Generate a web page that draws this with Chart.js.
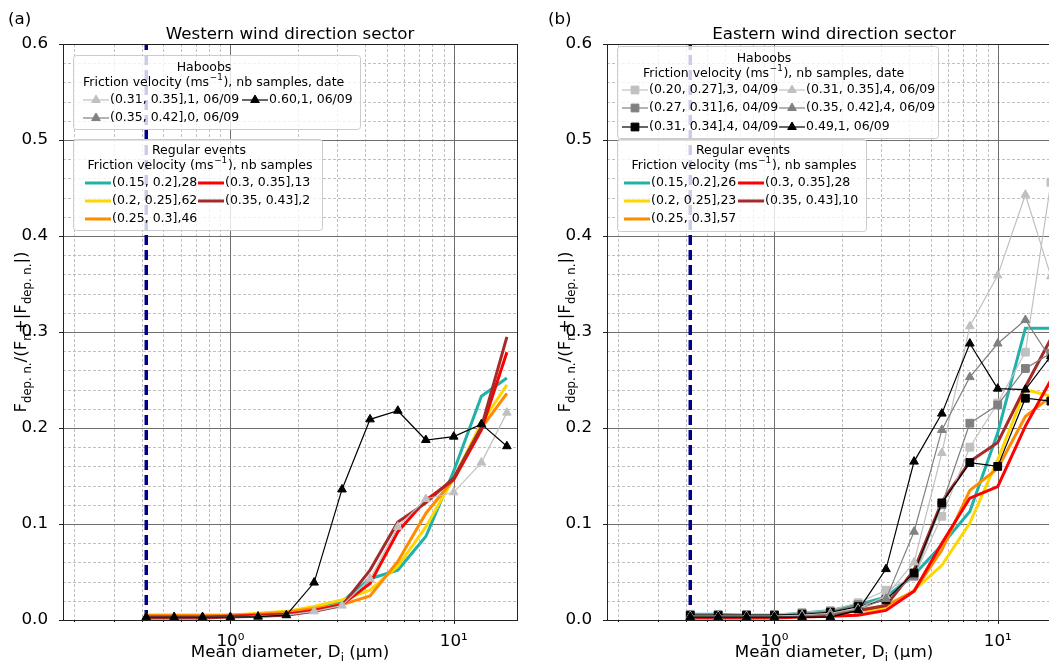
<!DOCTYPE html>
<html>
<head>
<meta charset="utf-8">
<script src="https://cdn.jsdelivr.net/npm/chart.js@4.4.1/dist/chart.umd.min.js"></script>
<style>
html, body { margin: 0; padding: 0; background: #fff; overflow: hidden; width: 1049px; height: 661px; }
.panel { position: absolute; top: 0; width: 540px; height: 661px; }
#p1 { left: 0; }
#p2 { left: 544px; }
</style>
</head>
<body>
<div class="panel" id="p1"><canvas id="west"></canvas></div>
<div class="panel" id="p2"><canvas id="east"></canvas></div>
<script>
// DATA
const diam = [0.42, 0.56, 0.75, 1.0, 1.33, 1.78, 2.37, 3.16, 4.22, 5.62, 7.5, 10.0, 13.3, 17.3];
const cutoff = 0.42;
const yTicks = [0, 0.1, 0.2, 0.3, 0.4, 0.5, 0.6];
const xTickVals = [0.2, 0.3, 0.4, 0.5, 0.6, 0.7, 0.8, 0.9, 1, 2, 3, 4, 5, 6, 7, 8, 9, 10];
const xTickLabels = { 1: '10⁰', 10: '10¹' };

// western sector - regular events
const westReg015 = [0.004, 0.004, 0.004, 0.005, 0.006, 0.008, 0.012, 0.019, 0.043, 0.052, 0.087, 0.155, 0.233, 0.252];
const westReg020 = [0.005, 0.005, 0.005, 0.005, 0.007, 0.009, 0.014, 0.021, 0.031, 0.056, 0.097, 0.148, 0.205, 0.245];
const westReg025 = [0.005, 0.005, 0.005, 0.005, 0.006, 0.008, 0.012, 0.016, 0.025, 0.061, 0.111, 0.147, 0.200, 0.236];
const westReg030 = [0.003, 0.003, 0.003, 0.004, 0.005, 0.006, 0.010, 0.016, 0.038, 0.092, 0.125, 0.146, 0.198, 0.279];
const westReg035 = [0.002, 0.002, 0.002, 0.003, 0.004, 0.005, 0.009, 0.015, 0.052, 0.102, 0.122, 0.148, 0.201, 0.295];
// western sector - haboobs
const westHab031 = [0.003, 0.003, 0.003, 0.003, 0.004, 0.005, 0.009, 0.015, 0.043, 0.097, 0.126, 0.133, 0.164, 0.216];
const westHab035 = [];
const westHab060 = [0.003, 0.003, 0.003, 0.003, 0.0035, 0.005, 0.039, 0.136, 0.209, 0.218, 0.1875, 0.191, 0.204, 0.181];

// eastern sector - regular events
const eastReg015 = [0.006, 0.006, 0.005, 0.005, 0.007, 0.010, 0.016, 0.024, 0.047, 0.078, 0.113, 0.195, 0.304, 0.304];
const eastReg020 = [0.003, 0.003, 0.003, 0.003, 0.004, 0.006, 0.009, 0.012, 0.031, 0.057, 0.101, 0.167, 0.240, 0.233];
const eastReg025 = [0.004, 0.004, 0.004, 0.004, 0.005, 0.007, 0.010, 0.015, 0.030, 0.073, 0.135, 0.158, 0.212, 0.233];
const eastReg030 = [0.002, 0.002, 0.002, 0.002, 0.003, 0.004, 0.005, 0.010, 0.030, 0.080, 0.127, 0.139, 0.202, 0.250];
const eastReg035 = [0.003, 0.003, 0.003, 0.003, 0.004, 0.006, 0.010, 0.015, 0.052, 0.123, 0.165, 0.185, 0.243, 0.293];
// eastern sector - haboobs
const eastHab020 = [0.006, 0.006, 0.006, 0.006, 0.008, 0.010, 0.018, 0.031, 0.045, 0.108, 0.180, 0.226, 0.279, 0.456];
const eastHab027 = [0.005, 0.005, 0.005, 0.005, 0.007, 0.009, 0.016, 0.022, 0.046, 0.120, 0.205, 0.224, 0.262, 0.278];
const eastHab031sq = [0.005, 0.005, 0.005, 0.005, 0.006, 0.008, 0.014, 0.021, 0.049, 0.122, 0.164, 0.160, 0.231, 0.228];
const eastHab031 = [0.004, 0.004, 0.004, 0.004, 0.005, 0.007, 0.012, 0.025, 0.060, 0.174, 0.306, 0.359, 0.443, 0.358];
const eastHab035 = [0.003, 0.003, 0.003, 0.003, 0.004, 0.006, 0.011, 0.022, 0.092, 0.198, 0.253, 0.288, 0.3125, 0.272];
const eastHab049 = [0.003, 0.003, 0.003, 0.003, 0.003, 0.003, 0.010, 0.053, 0.165, 0.215, 0.288, 0.241, 0.240, 0.275];

const TEAL = '#20b2aa', GOLD = '#ffd700', ORANGE = '#ff8c00', RED = '#ff0000', BROWN = '#a52a2a';
const SILVER = '#c0c0c0', GRAY = '#808080', BLACK = '#000000', NAVY = '#00008b';
const FONT = '"DejaVu Sans", Verdana, sans-serif';
const BIG = 16.7;   // titles, ticks, axis labels
const SMALL = 12.5; // legend text

function regular(vals, color) {
    return {
        data: vals.map((v, i) => ({ x: diam[i], y: v })),
        borderColor: color, backgroundColor: color,
        borderWidth: 3, pointRadius: 0, tension: 0
    };
}
function haboob(vals, color, style) {
    return {
        data: vals.map((v, i) => ({ x: diam[i], y: v })),
        borderColor: color, backgroundColor: color,
        pointBackgroundColor: color, pointBorderColor: color,
        borderWidth: 1.2, pointStyle: style,
        pointRadius: style === 'rect' ? 5.5 : 5, pointBorderWidth: 1, tension: 0
    };
}
function cutoffLine() {
    return {
        data: [{ x: cutoff, y: yTicks[0] }, { x: cutoff, y: yTicks[yTicks.length - 1] }],
        borderColor: NAVY, borderWidth: 3.5, borderDash: [10, 5], pointRadius: 0
    };
}

// text with sub/superscripts, parts = [[text, 'sub' | 'sup' | ''], ...]
function richText(ctx, parts, x, y, size, align) {
    const small = size * 0.7;
    const fontOf = p => (p[1] ? small : size) + 'px ' + FONT;
    let w = 0;
    parts.forEach(p => { ctx.font = fontOf(p); w += ctx.measureText(p[0]).width + (p[1] === 'sup' ? 1.5 : 0); });
    let cx = align === 'center' ? x - w / 2 : x;
    parts.forEach(p => {
        ctx.font = fontOf(p);
        let dy = 0;
        if (p[1] === 'sub') dy = size * 0.28;
        if (p[1] === 'sup') { dy = -size * 0.42; cx += 0.75; }
        ctx.fillText(p[0], cx, y + dy);
        cx += ctx.measureText(p[0]).width + (p[1] === 'sup' ? 0.75 : 0);
    });
}

function marker(ctx, style, x, y, color) {
    ctx.fillStyle = color;
    ctx.strokeStyle = color;
    ctx.lineWidth = 1;
    ctx.beginPath();
    if (style === 'rect') {
        const s = 5.5 * Math.SQRT1_2;
        ctx.rect(x - s, y - s, 2 * s, 2 * s);
    } else if (style === 'triangle') {
        const r = 5;
        ctx.moveTo(x, y - r);
        ctx.lineTo(x + r * 0.866, y + r * 0.5);
        ctx.lineTo(x - r * 0.866, y + r * 0.5);
        ctx.closePath();
    }
    ctx.fill();
    ctx.stroke();
}

function legendBox(ctx, L) {
    const [bx, by, bw, bh] = L.box;
    ctx.save();
    ctx.beginPath();
    ctx.roundRect(bx + 0.5, by + 0.5, bw, bh, 3);
    ctx.fillStyle = 'rgba(255,255,255,0.8)';
    ctx.fill();
    ctx.strokeStyle = '#cccccc';
    ctx.lineWidth = 1;
    ctx.stroke();
    ctx.fillStyle = '#000';
    ctx.textBaseline = 'alphabetic';
    ctx.textAlign = 'left';
    L.titles.forEach(t => richText(ctx, t[0], t[1], t[2] + 4.5, SMALL, t[3]));
    ctx.textBaseline = 'middle';
    L.items.forEach(it => {
        ctx.strokeStyle = it.color;
        ctx.lineWidth = it.marker ? 1.2 : 3;
        ctx.beginPath();
        ctx.moveTo(it.x, it.y);
        ctx.lineTo(it.x + 26, it.y);
        ctx.stroke();
        if (it.marker) marker(ctx, it.marker, it.x + 13, it.y, it.color);
        ctx.fillStyle = '#000';
        ctx.font = SMALL + 'px ' + FONT;
        ctx.fillText(it.label, it.x + 27, it.y);
    });
    ctx.restore();
}

const yLabel = [['F', ''], ['dep. n.', 'sub'], ['/(F', ''], ['n', 'sub'], ['+|F', ''], ['dep. n.', 'sub'], ['|)', '']];
const xLabel = [['Mean diameter, D', ''], ['i', 'sub'], [' (µm)', '']];
const habTitle = [['Friction velocity (ms', ''], ['−1', 'sup'], ['), nb samples, date', '']];
const regTitle = [['Friction velocity (ms', ''], ['−1', 'sup'], ['), nb samples', '']];

const decor = {
    id: 'decor',
    beforeDatasetsDraw(chart, args, o) {
        const { ctx, chartArea: a, scales: { x, y } } = chart;
        ctx.save();
        ctx.lineWidth = 0.8;
        ctx.strokeStyle = '#b0b0b0';
        ctx.setLineDash([3, 2]);
        for (let k = 1; k < 30; k++) {
            if (k % 5 === 0) continue;
            const py = Math.round(y.getPixelForValue(k * 0.02)) + 0.5;
            ctx.beginPath(); ctx.moveTo(a.left, py); ctx.lineTo(a.right, py); ctx.stroke();
        }
        xTickVals.forEach(v => {
            if (v === 1 || v === 10) return;
            const px = Math.round(x.getPixelForValue(v)) + 0.5;
            ctx.beginPath(); ctx.moveTo(px, a.top); ctx.lineTo(px, a.bottom); ctx.stroke();
        });
        ctx.setLineDash([]);
        ctx.strokeStyle = '#6e6e6e';
        ctx.lineWidth = 1;
        yTicks.slice(1, -1).forEach(v => {
            const py = Math.round(y.getPixelForValue(v)) + 0.5;
            ctx.beginPath(); ctx.moveTo(a.left, py); ctx.lineTo(a.right, py); ctx.stroke();
        });
        [1, 10].forEach(v => {
            const px = Math.round(x.getPixelForValue(v)) + 0.5;
            ctx.beginPath(); ctx.moveTo(px, a.top); ctx.lineTo(px, a.bottom); ctx.stroke();
        });
        ctx.restore();
    },
    afterDatasetsDraw(chart, args, o) {
        const { ctx, chartArea: a, scales: { x, y } } = chart;
        ctx.save();
        ctx.strokeStyle = '#222';
        ctx.lineWidth = 1;
        ctx.strokeRect(Math.round(a.left) + 0.5, Math.round(a.top) + 0.5, Math.round(a.right - a.left), Math.round(a.bottom - a.top));
        // tick marks
        ctx.beginPath();
        yTicks.forEach(v => {
            const py = Math.round(y.getPixelForValue(v)) + 0.5;
            ctx.moveTo(a.left, py); ctx.lineTo(a.left - 4, py);
        });
        xTickVals.forEach(v => {
            const px = Math.round(x.getPixelForValue(v)) + 0.5;
            const len = (v === 1 || v === 10) ? 4 : 2;
            ctx.moveTo(px, a.bottom); ctx.lineTo(px, a.bottom + len);
        });
        ctx.stroke();
        ctx.restore();
    },
    afterDraw(chart, args, o) {
        const { ctx, chartArea: a } = chart;
        ctx.save();
        ctx.fillStyle = '#000';
        ctx.textBaseline = 'alphabetic';
        ctx.textAlign = 'left';
        ctx.font = BIG + 'px ' + FONT;
        ctx.fillText(o.letter[0], o.letter[1], 24);
        ctx.textAlign = 'center';
        ctx.fillText(o.title, (a.left + a.right) / 2, 39);
        ctx.textAlign = 'left';
        richText(ctx, xLabel, (a.left + a.right) / 2, 657, BIG, 'center');
        ctx.save();
        ctx.translate(26, (a.top + a.bottom) / 2);
        ctx.rotate(-Math.PI / 2);
        richText(ctx, yLabel, 0, 0, BIG, 'center');
        ctx.restore();
        ctx.restore();
        o.legends.forEach(L => legendBox(ctx, L));
    }
};

function makeChart(id, datasets, deco) {
    return new Chart(document.getElementById(id), {
        type: 'line',
        data: { datasets },
        plugins: [decor],
        options: {
            responsive: true,
            maintainAspectRatio: false,
            animation: false,
            layout: { padding: { left: 0, right: 23, top: 44, bottom: 0 } },
            scales: {
                x: {
                    type: 'logarithmic', min: 0.178, max: 19.2,
                    afterBuildTicks: s => { s.ticks = xTickVals.map(v => ({ value: v })); },
                    afterFit: s => { s.height = 41; },
                    grid: { display: false }, border: { display: false },
                    ticks: {
                        autoSkip: false, maxRotation: 0, minRotation: 0, padding: 4,
                        color: '#000', font: { family: FONT, size: BIG },
                        callback: v => xTickLabels[v] || ''
                    }
                },
                y: {
                    min: 0, max: 0.6,
                    afterBuildTicks: s => { s.ticks = yTicks.map(v => ({ value: v })); },
                    afterFit: s => { s.width = 63; },
                    grid: { display: false }, border: { display: false },
                    ticks: {
                        padding: 7, color: '#000', font: { family: FONT, size: BIG },
                        callback: v => Number(v).toFixed(1)
                    }
                }
            },
            plugins: { legend: { display: false }, tooltip: { enabled: false }, decor: deco }
        }
    });
}

makeChart('west', [
    haboob(westHab060, BLACK, 'triangle'),
    haboob(westHab035, GRAY, 'triangle'),
    haboob(westHab031, SILVER, 'triangle'),
    regular(westReg035, BROWN),
    regular(westReg030, RED),
    regular(westReg025, ORANGE),
    regular(westReg020, GOLD),
    regular(westReg015, TEAL),
    cutoffLine()
], {
    letter: ['(a)', 8],
    title: 'Western wind direction sector',
    legends: [
        {
            box: [73, 55, 287, 74],
            titles: [[[['Haboobs', '']], 204, 66, 'center'], [habTitle, 83, 81, 'left']],
            items: [
                { label: '(0.31, 0.35],1, 06/09', color: SILVER, marker: 'triangle', x: 83, y: 100 },
                { label: '0.60,1, 06/09', color: BLACK, marker: 'triangle', x: 242, y: 100 },
                { label: '(0.35, 0.42],0, 06/09', color: GRAY, marker: 'triangle', x: 83, y: 118 }
            ]
        },
        {
            box: [73, 139, 249, 91],
            titles: [[[['Regular events', '']], 199, 149, 'center'], [regTitle, 200, 164, 'center']],
            items: [
                { label: '(0.15, 0.2],28', color: TEAL, x: 85, y: 183 },
                { label: '(0.3, 0.35],13', color: RED, x: 198, y: 183 },
                { label: '(0.2, 0.25],62', color: GOLD, x: 85, y: 201 },
                { label: '(0.35, 0.43],2', color: BROWN, x: 198, y: 201 },
                { label: '(0.25, 0.3],46', color: ORANGE, x: 85, y: 219 }
            ]
        }
    ]
});

makeChart('east', [
    haboob(eastHab049, BLACK, 'triangle'),
    haboob(eastHab035, GRAY, 'triangle'),
    haboob(eastHab031, SILVER, 'triangle'),
    haboob(eastHab031sq, BLACK, 'rect'),
    haboob(eastHab027, GRAY, 'rect'),
    haboob(eastHab020, SILVER, 'rect'),
    regular(eastReg035, BROWN),
    regular(eastReg030, RED),
    regular(eastReg025, ORANGE),
    regular(eastReg020, GOLD),
    regular(eastReg015, TEAL),
    cutoffLine()
], {
    letter: ['(b)', 4],
    title: 'Eastern wind direction sector',
    legends: [
        {
            box: [73, 46, 321, 92],
            titles: [[[['Haboobs', '']], 220, 57, 'center'], [habTitle, 99, 72, 'left']],
            items: [
                { label: '(0.20, 0.27],3, 04/09', color: SILVER, marker: 'rect', x: 78, y: 90 },
                { label: '(0.31, 0.35],4, 06/09', color: SILVER, marker: 'triangle', x: 235, y: 90 },
                { label: '(0.27, 0.31],6, 04/09', color: GRAY, marker: 'rect', x: 78, y: 108 },
                { label: '(0.35, 0.42],4, 06/09', color: GRAY, marker: 'triangle', x: 235, y: 108 },
                { label: '(0.31, 0.34],4, 04/09', color: BLACK, marker: 'rect', x: 78, y: 127 },
                { label: '0.49,1, 06/09', color: BLACK, marker: 'triangle', x: 235, y: 127 }
            ]
        },
        {
            box: [73, 139, 249, 92],
            titles: [[[['Regular events', '']], 199, 149, 'center'], [regTitle, 200, 164, 'center']],
            items: [
                { label: '(0.15, 0.2],26', color: TEAL, x: 80, y: 183 },
                { label: '(0.3, 0.35],28', color: RED, x: 194, y: 183 },
                { label: '(0.2, 0.25],23', color: GOLD, x: 80, y: 201 },
                { label: '(0.35, 0.43],10', color: BROWN, x: 194, y: 201 },
                { label: '(0.25, 0.3],57', color: ORANGE, x: 80, y: 219 }
            ]
        }
    ]
});
</script>
</body>
</html>
